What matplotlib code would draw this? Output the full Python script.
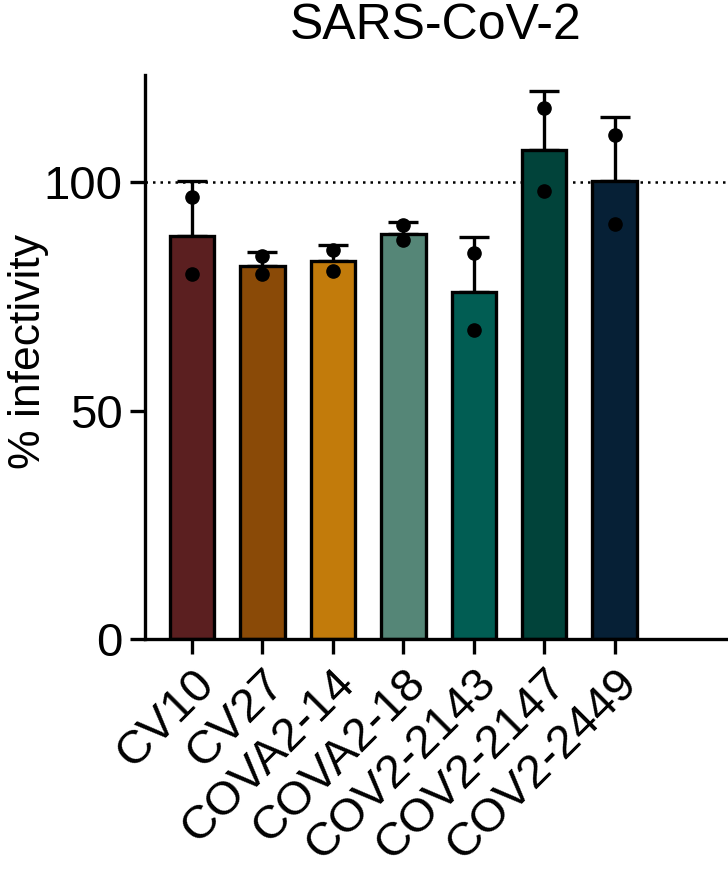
import matplotlib.pyplot as plt
import numpy as np

plt.rcParams['font.family'] = ['Liberation Sans', 'DejaVu Sans']

antibodies = ['CV10', 'CV27', 'COVA2-14', 'COVA2-18', 'COV2-2143', 'COV2-2147', 'COV2-2449']
means = [88.3, 81.8, 82.8, 88.8, 75.9, 107.1, 100.4]
errors = [12.1, 3.0, 3.4, 2.6, 12.1, 13.0, 13.9]
rep1 = [96.9, 83.9, 85.2, 90.7, 84.5, 116.4, 110.3]
rep2 = [80.0, 79.9, 80.7, 87.3, 67.7, 98.1, 90.9]
colors = ['#5B1F20', '#8A4A07', '#C27B0B', '#558677', '#015D53', '#01433A', '#062036']

fig = plt.figure(figsize=(7.28, 8.75), dpi=100)
ax = fig.add_axes([0.199, 0.27, 0.80, 0.644])

x = np.arange(len(antibodies))
lw = 2.4

# barras com desvio (só para cima)
ax.bar(x, means, width=0.63, color=colors, edgecolor='black', linewidth=lw, zorder=2)
ax.errorbar(x, means, yerr=[np.zeros(len(means)), errors], fmt='none',
            ecolor='black', elinewidth=lw, capsize=10.5, capthick=lw, zorder=1)

# pontos individuais
ax.plot(x, rep1, 'o', color='black', markersize=9.5, zorder=3)
ax.plot(x, rep2, 'o', color='black', markersize=9.5, zorder=3)

# linha de referência em 100%
ax.axhline(100, color='black', linestyle=(0, (1, 2)), linewidth=1.8, zorder=0)

ax.set_xlim(-0.67, 7.6)
ax.set_ylim(0, 123.5)
ax.set_yticks([0, 50, 100])
ax.set_xticks(x)
ax.set_xticklabels(antibodies, rotation=45, ha='right', rotation_mode='anchor')

for side in ['top', 'right']:
    ax.spines[side].set_visible(False)
for side in ['left', 'bottom']:
    ax.spines[side].set_linewidth(lw)

ax.tick_params(axis='both', length=11, width=lw, labelsize=34, pad=5)
ax.set_ylabel('% infectivity', fontsize=32)
ax.yaxis.set_label_coords(-0.165, 0.51)
ax.set_title('SARS-CoV-2', fontsize=36, pad=26)

plt.savefig('out.png', dpi=100)
plt.close(fig)
